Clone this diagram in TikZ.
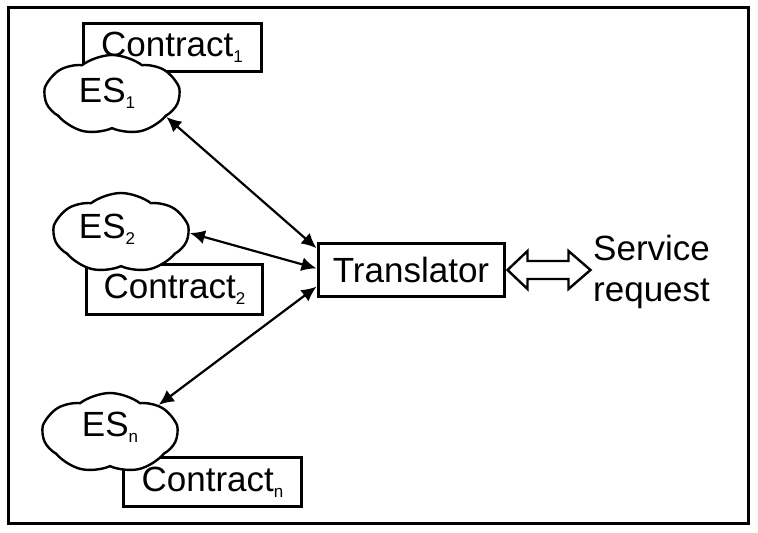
\documentclass[tikz,border=0pt]{standalone}
\usepackage{fontspec}
\setmainfont{Liberation Sans}
\usetikzlibrary{shapes.symbols,arrows.meta}
\newcommand\subs[1]{\raisebox{-6pt}{\fontsize{17}{17}\selectfont #1}}
\begin{document}
\begin{tikzpicture}[x=1pt,y=-1pt,
  txt/.style={font=\fontsize{35}{41}\selectfont},
  box/.style={draw,line width=3pt,inner sep=0pt,txt},
  es/.style={cloud,draw,fill=white,line width=2.4pt,cloud puffs=7,cloud puff arc=75,aspect=1.7,inner sep=0pt,minimum width=134pt,minimum height=80pt},
  link/.style={line width=2.2pt,{Latex[length=15pt,width=14pt]}-{Latex[length=15pt,width=14pt]}},
  dbl/.style={draw,line width=2.4pt,fill=white,line join=miter}]
\useasboundingbox (0,0) rectangle (758,533);
\draw[line width=3pt] (8.5,7.5) rectangle (748.5,523.5);
% contracts
\node[box,minimum width=178pt,minimum height=48pt] (c1) at (172,47.5) {Contract\subs{1}};
\node[box,minimum width=176pt,minimum height=50pt] (c2) at (174.5,289) {Contract\subs{2}};
\node[box,minimum width=178pt,minimum height=49pt] (cn) at (212.5,482) {Contract\subs{n}};
% clouds
\node[es] (es1) at (112,95) {};
\node[txt] (t1) at (107,93) {ES\subs{1}};
\node[es] (es2) at (121,233) {};
\node[txt] (t2) at (107,229) {ES\subs{2}};
\node[es] (esn) at (110,433) {};
\node[txt] (tn) at (110,427) {ES\subs{n}};
% translator
\node[box,minimum width=186pt,minimum height=53pt] (tr) at (411,270) {Translator};
\node[txt,align=left,anchor=west,inner sep=0pt] (sr) at (593,272) {Service\\request};
% links
\draw[link] (es1.-22) -- (tr.167);
\draw[link] (es2.0) -- (tr.179);
\draw[link] (esn.30) -- (tr.190);
% double arrow
\draw[dbl] ([xshift=2pt]tr.east) -- ++(20,-19) -- ++(0,10) -- ++(41,0) -- ++(0,-10) -- ++(22,19) -- ++(-22,19) -- ++(0,-10) -- ++(-41,0) -- ++(0,10) -- cycle;
\end{tikzpicture}
\end{document}
